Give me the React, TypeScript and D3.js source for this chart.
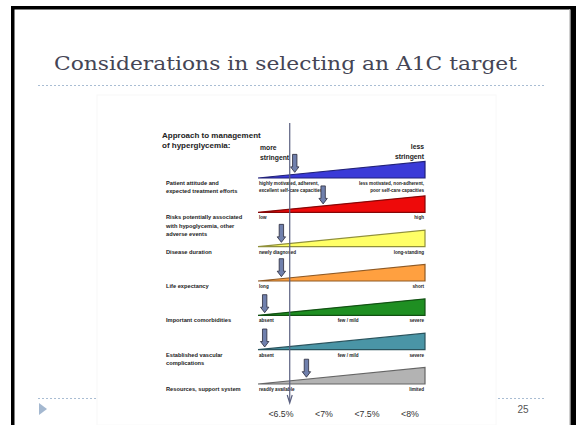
import React from "react";
import * as d3 from "d3";

// rows of the chart (top to bottom)
const factors = [
  ["Patient attitude and", "expected treatment efforts"],
  ["Risks potentially associated", "with hypoglycemia, other", "adverse events"],
  ["Disease duration"],
  ["Life expectancy"],
  ["Important comorbidities"],
  ["Established vascular", "complications"],
  ["Resources, support system"],
];
const leftLabels = [
  ["highly motivated, adherent,", "excellent self-care capacities"],
  ["low"],
  ["newly diagnosed"],
  ["long"],
  ["absent"],
  ["absent"],
  ["readily available"],
];
const midLabels = ["", "", "", "", "few / mild", "few / mild", ""];
const rightLabels = [
  ["less motivated, non-adherent,", "poor self-care capacities"],
  ["high"],
  ["long-standing"],
  ["short"],
  ["severe"],
  ["severe"],
  ["limited"],
];
const wedgeColors = ["#3a3ad8", "#ee0a0a", "#ffff66", "#ffa040", "#1f8f22", "#4a95a6", "#b3b3b3"];
// arrow position on the more (0) -> less (1) stringent scale
const arrowPositions = [0.22, 0.39, 0.14, 0.14, 0.04, 0.04, 0.29];
const targets = ["<6.5%", "<7%", "<7.5%", "<8%"];
const targetLinePos = 0.19;
const midPos = 0.54;

const W = 576;
const H = 425;
const sans = "Liberation Sans, Arial, sans-serif";

const Arrow: React.FC<{ x: number; tip: number; len: number }> = ({ x, tip, len }) => {
  const sw = 2.2, hw = 4.2, hl = 5.5;
  const top = tip - len;
  const d = `M${x - sw},${top} L${x + sw},${top} L${x + sw},${tip - hl} L${x + hw},${tip - hl} L${x},${tip} L${x - hw},${tip - hl} L${x - sw},${tip - hl} Z`;
  return <path d={d} fill="#7080ad" stroke="#2a2a3a" strokeWidth={0.8} />;
};

export default function App() {
  const sx = d3.scaleLinear().domain([0, 1]).range([258, 425]);
  const sy = d3.scaleLinear().domain([0, factors.length - 1]).range([178, 384]);
  const tx = d3.scalePoint<string>().domain(targets).range([281, 410]);
  const wedgeH = 16.5;

  const wedge = (y: number) => {
    const p = d3.path();
    p.moveTo(sx(0), y);
    p.lineTo(sx(1), y);
    p.lineTo(sx(1), y - wedgeH);
    p.closePath();
    return p.toString();
  };

  const lineX = sx(targetLinePos);

  return (
    <svg width={W} height={H} style={{ position: "absolute", left: 0, top: 0, display: "block" }}>
      <rect x={0} y={0} width={W} height={H} fill="#fff" />
      {/* slide frame */}
      <rect x={11} y={6} width={W - 11} height={H} fill="#000" />
      <rect x={14.5} y={9.5} width={556} height={H} fill="#fff" />
      <line x1={569.5} x2={569.5} y1={9.5} y2={H} stroke="#d0d0d0" />

      <text x={54} y={70} fontFamily="DejaVu Serif, serif" fontSize={19} fill="#454555"
        textLength={463} lengthAdjust="spacingAndGlyphs">
        Considerations in selecting an A1C target
      </text>
      <line x1={38} x2={545} y1={85.5} y2={85.5} stroke="#a9bdd3" strokeDasharray="2,2" />
      <line x1={38} x2={545} y1={398.5} y2={398.5} stroke="#a9bdd3" strokeDasharray="2,2" />
      <path d="M39,403 L47,409 L39,415 Z" fill="#a4b8d0" />
      <text x={523} y={413} textAnchor="middle" fontFamily="Liberation Sans, sans-serif" fontSize={10} fill="#555">25</text>

      {/* embedded figure */}
      <rect x={97} y={95} width={399} height={H - 95} fill="#fff" stroke="#f8f8f8" />

      <g fontFamily={sans} fontWeight="bold" fill="#222">
        <text x={162} y={138} fontSize={8}>Approach to management</text>
        <text x={162} y={148} fontSize={8}>of hyperglycemia:</text>
        <text x={260} y={150} fontSize={6.8}>more</text>
        <text x={260} y={160} fontSize={6.8}>stringent</text>
        <text x={424} y={149} fontSize={6.8} textAnchor="end">less</text>
        <text x={424} y={159} fontSize={6.8} textAnchor="end">stringent</text>
      </g>

      {factors.map((lines, i) => {
        const y = sy(i);
        const col = d3.color(wedgeColors[i])!;
        const tipX = sx(arrowPositions[i]);
        const tipY = y - wedgeH * arrowPositions[i] - 2;
        return (
          <g key={i} fontFamily={sans} fontWeight="bold" fill="#222">
            <path d={wedge(y)} fill={wedgeColors[i]} stroke={col.darker(1.6).toString()} strokeWidth={1.2} strokeLinejoin="miter" />
            {lines.map((t, j) => (
              <text key={j} x={166} y={y + 7 + j * 8.3} fontSize={5.7}>{t}</text>
            ))}
            {leftLabels[i].map((t, j) => (
              <text key={j} x={sx(0) + 1} y={y + 7 + j * 7} fontSize={4.6}>{t}</text>
            ))}
            {rightLabels[i].map((t, j) => (
              <text key={j} x={sx(1) - 1} y={y + 7 + j * 7} fontSize={4.6} textAnchor="end">{t}</text>
            ))}
            {midLabels[i] && (
              <text x={sx(midPos)} y={y + 7} fontSize={4.6} textAnchor="middle">{midLabels[i]}</text>
            )}
            <Arrow x={tipX} tip={tipY} len={18} />
          </g>
        );
      })}

      {/* target axis */}
      <line x1={lineX} x2={lineX} y1={123} y2={401} stroke="#5a6080" strokeWidth={1.2} />
      <path d={`M${lineX - 2.5},${395} L${lineX},${403} L${lineX + 2.5},${395}`} fill="none" stroke="#5a6080" strokeWidth={1.2} />

      <g fontFamily={sans} fontSize={8.8} fill="#333" textAnchor="middle">
        {targets.map((t) => (
          <text key={t} x={tx(t)} y={417}>{t}</text>
        ))}
      </g>
    </svg>
  );
}
